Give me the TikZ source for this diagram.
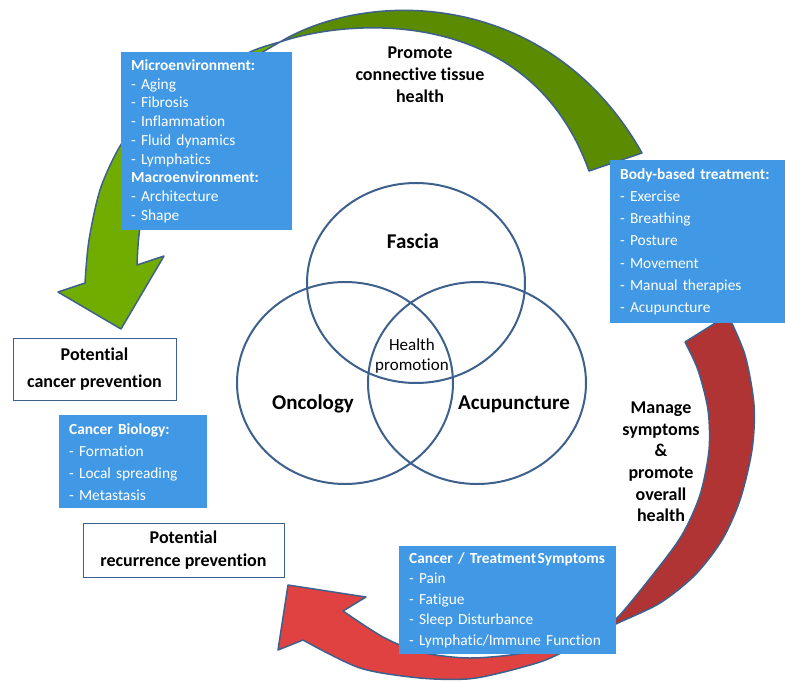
\documentclass[tikz,border=0pt]{standalone}
\usepackage{fontspec}
\setmainfont{Carlito}[Ligatures=NoCommon]
\definecolor{boxblue}{RGB}{65,153,230}
\definecolor{rimblue}{RGB}{62,96,140}
\definecolor{leafdark}{RGB}{91,139,0}
\definecolor{leaflight}{RGB}{112,173,0}
\definecolor{reddark}{RGB}{176,52,52}
\definecolor{redlight}{RGB}{224,65,65}

\begin{document}
\begin{tikzpicture}[x=1pt,y=-1pt,
  infobox/.style={fill=boxblue, text=white, align=left, anchor=north west,
    inner xsep=10pt, inner ysep=0pt},
  goalbox/.style={draw=rimblue, fill=white, align=center, line width=0.8pt,
    font=\bfseries\fontsize{18}{27}\selectfont},
  band/.style={draw=rimblue, line width=1.5pt, line join=round},
  ring/.style={draw=rimblue, line width=2pt},
  arrowlbl/.style={align=center, font=\bfseries\fontsize{18}{22}\selectfont},
  venlbl/.style={font=\bfseries\fontsize{21}{24}\selectfont}]
\useasboundingbox (0,0) rectangle (785,681);

% green arrow: fascia -> cancer prevention
\draw[band, fill=leaflight] plot[smooth] coordinates {(280,42) (250,52) (200,80) (155,112) (124,140) (101,187) (89,240) (85,283)}
  -- (58,292) -- (121,329) -- (164,256)
  -- plot[smooth] coordinates {(137,265) (139,235) (146,195) (165,150) (198,105) (238,68) (280,42)} -- cycle;
\draw[band, fill=leafdark] (280,42) .. controls (370,-12) and (550,-10) .. (642,153)
  -- (589,171) .. controls (530,5) and (350,18) .. (280,42) -- cycle;

% red arrow: treatment -> recurrence prevention
\draw[band, fill=redlight] plot[smooth] coordinates {(595,634) (563,652) (540,662) (500,673) (467,679) (420,678) (360,668) (303,640)}
  -- (278,650) -- (288,585) -- (366,597)
  -- plot[smooth] coordinates {(343,611) (383,637) (420,652) (470,658) (530,652) (595,634)} -- cycle;
\draw[band, fill=reddark] plot[smooth] coordinates {(728,315) (745,355) (754,405) (752,450) (740,500) (722,540) (695,575) (660,603) (618,623) (595,634)}
  -- plot[smooth] coordinates {(595,634) (618,617) (655,572) (682,535) (700,495) (709,450) (708,410) (698,370) (685,342)} -- cycle;

% venn
\draw[ring] (416,283) ellipse [x radius=109pt, y radius=100pt];
\draw[ring] (345,383) ellipse [x radius=108pt, y radius=101pt];
\draw[ring] (477,383) ellipse [x radius=109pt, y radius=101pt];
\node[venlbl] (fascia) at (413,241) {Fascia};
\node[venlbl] (onco) at (313,404) {Oncology};
\node[venlbl] (acu) at (514,404) {Acupuncture};
\node[align=center, font=\fontsize{17}{20}\selectfont] (health) at (412,356) {Health\\promotion};

\node[arrowlbl] (promote) at (420,75) {Promote\\connective tissue\\health};
\node[arrowlbl, font=\bfseries\fontsize{18}{21.6}\selectfont] (manage) at (661,462) {Manage\\symptoms\\\&\\promote\\overall\\health};

% info boxes
\node[infobox, minimum width=171pt, minimum height=178pt, text width=151pt,
  font=\fontsize{15.4}{18.7}\selectfont] (micro) at (121,52)
  {\textbf{Microenvironment:}\\- Aging\\- Fibrosis\\- Inflammation\\- Fluid dynamics\\- Lymphatics\\
   \textbf{Macroenvironment:}\\- Architecture\\- Shape};
\node[infobox, minimum width=175pt, minimum height=163pt, text width=155pt,
  font=\fontsize{15.4}{22.2}\selectfont] (bodytx) at (610,160)
  {\textbf{Body-based treatment:}\\- Exercise\\- Breathing\\- Posture\\- Movement\\- Manual therapies\\- Acupuncture};
\node[infobox, minimum width=148pt, minimum height=93pt, text width=128pt,
  font=\fontsize{15.4}{22}\selectfont] (biology) at (59,415)
  {\textbf{Cancer Biology:}\\- Formation\\- Local spreading\\- Metastasis};
\node[infobox, minimum width=217pt, minimum height=108pt, text width=197pt,
  font=\fontsize{15.4}{20.5}\selectfont] (symptoms) at (399,546)
  {\makebox[0pt][l]{\textbf{Cancer / Treatment\hspace{0.1em}Symptoms}}\\- Pain\\- Fatigue\\- Sleep Disturbance\\- Lymphatic/Immune Function};

% outcomes
\node[goalbox, minimum width=163pt, minimum height=62pt] (prevent) at (94.5,369) {Potential\\cancer prevention};
\node[goalbox, minimum width=201pt, minimum height=54pt, font=\bfseries\fontsize{18}{23}\selectfont] (recur) at (183.5,550) {Potential\\recurrence prevention};
\end{tikzpicture}
\end{document}
